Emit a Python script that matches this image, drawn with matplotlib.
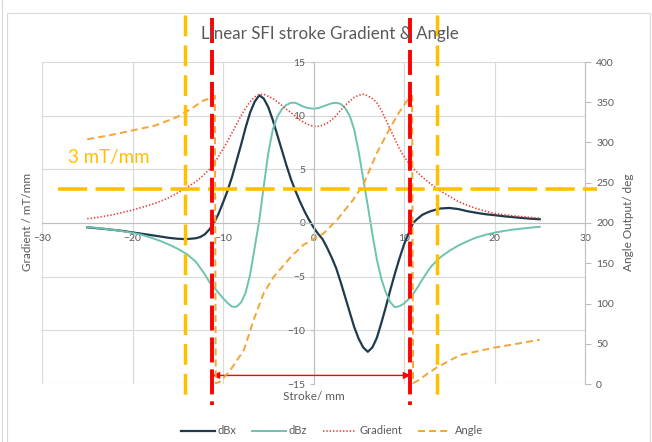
import matplotlib
matplotlib.use('Agg')
import matplotlib.pyplot as plt
import matplotlib.transforms as mtransforms
from matplotlib.lines import Line2D

plt.rcParams['font.family'] = ['Lato', 'DejaVu Sans']
plt.rcParams['lines.scale_dashes'] = False

# ---------------- data ----------------
stroke = [-25, -24, -23, -22, -21, -20, -19, -18, -17, -16, -15, -14, -13,
          -12.5, -12, -11.5, -11, -10.5, -10, -9.5, -9, -8.5, -8, -7.5, -7,
          -6.5, -6, -5.5, -5, -4.5, -4, -3.5, -3, -2.5, -2, -1.5, -1, -0.5,
          0, 0.5, 1, 1.5, 2, 2.5, 3, 3.5, 4, 4.5, 5, 5.5, 6, 6.5, 7, 7.5, 8,
          8.5, 9, 9.5, 10, 10.5, 11, 11.5, 12, 12.5,
          13, 14, 15, 16, 17, 18, 19, 20, 21, 22, 23, 24, 25]

dBx = [-0.40, -0.48, -0.56, -0.65, -0.75, -0.88, -1.00, -1.12, -1.25, -1.38, -1.47, -1.50, -1.42,
       -1.30, -1.05, -0.60, 0.00, 0.85, 1.90, 3.00, 4.30, 5.80, 7.30, 8.90, 10.30,
       11.30, 11.90, 11.60, 10.80, 9.60, 8.20, 6.80, 5.40, 4.10, 3.00, 2.00, 1.10, 0.30,
       -0.40, -1.00, -1.50, -2.30, -3.20, -4.20, -5.50, -6.90, -8.30, -9.70, -10.80, -11.60, -12.00, -11.60, -10.70, -9.30, -7.80,
       -6.20, -4.70, -3.30, -2.00, -1.00, 0.00, 0.40, 0.75, 0.95,
       1.12, 1.35, 1.40, 1.30, 1.10, 0.95, 0.82, 0.73, 0.63, 0.55, 0.47, 0.40, 0.35]

dBz = [-0.38, -0.45, -0.55, -0.65, -0.78, -0.92, -1.10, -1.35, -1.65, -2.00, -2.40, -2.90, -3.60,
       -4.20, -4.80, -5.50, -6.00, -6.50, -7.00, -7.45, -7.80, -7.80, -7.40, -6.50, -4.80,
       -2.30, 0.20, 3.40, 6.50, 8.70, 9.90, 10.60, 11.00, 11.20, 11.20, 11.00, 10.80, 10.70,
       10.65, 10.70, 10.85, 11.00, 11.15, 11.20, 11.10, 10.70, 10.00, 8.70, 6.60, 4.10, 1.60, -1.00, -3.40, -5.20, -6.50,
       -7.40, -7.85, -7.75, -7.50, -7.10, -6.60, -6.00, -5.30, -4.65,
       -4.05, -3.20, -2.60, -2.10, -1.70, -1.35, -1.10, -0.90, -0.75, -0.62, -0.52, -0.43, -0.36]

gradient = [0.40, 0.50, 0.65, 0.80, 1.00, 1.20, 1.45, 1.70, 2.00, 2.35, 2.80, 3.30, 3.85,
            4.20, 4.60, 5.00, 5.50, 6.20, 6.90, 7.60, 8.40, 9.20, 10.00, 10.70, 11.30,
            11.75, 11.95, 12.00, 11.80, 11.60, 11.30, 10.95, 10.60, 10.30, 9.95, 9.60, 9.35, 9.15,
            9.00, 9.00, 9.10, 9.30, 9.60, 10.00, 10.50, 10.95, 11.35, 11.70, 11.90, 12.00, 11.85, 11.60, 11.20, 10.50, 9.60,
            8.70, 7.80, 6.90, 6.20, 5.60, 5.10, 4.70, 4.30, 3.95,
            3.60, 3.00, 2.50, 2.00, 1.65, 1.35, 1.10, 0.90, 0.78, 0.68, 0.60, 0.52, 0.45]

angle_stroke = [-25, -22.5, -20, -17.5, -15, -13.5, -12.2, -11.4, -10.9,
                -10.8, -10.3, -9.2, -7.7, -6.6, -5.5, -4.4, -2.5, -1.1, 0,
                1.1, 2.6, 4.4, 5.6, 7.0, 8.5, 9.5, 10.4, 10.9,
                11.0, 11.5, 12.5, 13.7, 16.2, 19.9, 22.5, 25]
angle = [304, 309, 315, 321, 332, 342, 352, 355, 358,
         1, 3, 17, 42, 80, 113, 133, 158, 173, 180,
         187, 204, 229, 250, 287, 319, 338, 353, 358,
         1, 4, 12, 21, 36, 45, 50, 55]

x_ticks = [-30, -20, -10, 0, 10, 20, 30]
y_ticks = [-15, -10, -5, 0, 5, 10, 15]
angle_ticks = [0, 50, 100, 150, 200, 250, 300, 350, 400]

threshold = 3.18
red_markers = [-11.27, 10.7]
gold_markers = [-14.25, 13.7]
arrow_y = -14.2
arrow_x = [-11.16, 10.72]

# ---------------- style ----------------
GREY_TXT = '#595959'
GRID = '#D9D9D9'
C_DBX = '#1E3A4C'
C_DBZ = '#6EC3AF'
C_GRAD = '#E8403A'
C_ANG = '#F4A535'
GOLD = '#FFC000'
RED = '#FF0000'

W, H = 652, 442
fig = plt.figure(figsize=(W / 100, H / 100), dpi=100)
ax = fig.add_axes([42 / W, 58 / H, 543 / W, 322 / H])
ax2 = ax.twinx()

ax.set_xlim(-30, 30)
ax.set_ylim(-15, 15)
ax2.set_ylim(0, 400)

ax.set_xticks(x_ticks)
ax.set_yticks(y_ticks)
ax2.set_yticks(angle_ticks)
ax.grid(True, color=GRID, lw=0.8)
ax.set_axisbelow(True)

for s in ['top', 'right']:
    ax.spines[s].set_visible(False)
ax.spines['left'].set_position(('data', 0))
ax.spines['bottom'].set_position(('data', 0))
for s in ['left', 'bottom']:
    ax.spines[s].set_color('#BFBFBF')
    ax.spines[s].set_linewidth(0.8)
for s in ['left', 'top', 'bottom']:
    ax2.spines[s].set_visible(False)
ax2.spines['right'].set_color('#BFBFBF')
ax2.spines['right'].set_linewidth(0.8)

ax.tick_params(axis='x', length=0, pad=8, labelsize=7.5, labelcolor=GREY_TXT)
ax.tick_params(axis='y', length=3, width=0.8, color='#BFBFBF', pad=3,
               labelsize=7.5, labelcolor=GREY_TXT)
ax2.tick_params(axis='y', length=4, width=0.8, color='#BFBFBF', pad=4,
                labelsize=7.5, labelcolor=GREY_TXT)

l1, = ax.plot(stroke, dBx, color=C_DBX, lw=1.6, label='dBx')
l2, = ax.plot(stroke, dBz, color=C_DBZ, lw=1.4, label='dBz')
l3, = ax.plot(stroke, gradient, color=C_GRAD, lw=1.2, ls=(0, (1.0, 1.4)), label='Gradient')
l4, = ax2.plot(angle_stroke, angle, color=C_ANG, lw=1.4, ls=(0, (5, 3)), label='Angle')

# annotations
tr_vert = mtransforms.blended_transform_factory(ax.transData, fig.transFigure)
tr_horz = mtransforms.blended_transform_factory(fig.transFigure, ax.transData)
ax2.plot([0.089, 0.9156], [threshold, threshold], transform=tr_horz, color=GOLD,
         lw=2.6, ls=(0, (21, 6)), clip_on=False, zorder=10)
for xv in gold_markers:
    ax2.plot([xv, xv], [1 - 15 / H, 1 - 402 / H], transform=tr_vert, color=GOLD,
             lw=2.5, ls=(0, (15, 6.5)), clip_on=False, zorder=10)
for xv in red_markers:
    ax2.plot([xv, xv], [1 - 18 / H, 1 - 405 / H], transform=tr_vert, color=RED,
             lw=2.8, ls=(0, (18, 5)), clip_on=False, zorder=11)
ax.annotate('', xy=(arrow_x[0], arrow_y), xytext=(arrow_x[1], arrow_y),
            arrowprops=dict(arrowstyle='<|-|>', color=RED, lw=1.0,
                            mutation_scale=10, shrinkA=0, shrinkB=0),
            zorder=12)
fig.text(68 / W, 1 - 157 / H, '3 mT/mm', color=GOLD, fontsize=13.5, va='center', ha='left')

# texts
fig.text(330 / W, 1 - 34 / H, 'Linear SFI stroke Gradient & Angle', color=GREY_TXT,
         fontsize=12.2, ha='center', va='center')
fig.text(28 / W, 1 - 222 / H, 'Gradient / mT/mm', color=GREY_TXT, fontsize=8.5,
         rotation=90, ha='center', va='center')
fig.text(628 / W, 1 - 222 / H, 'Angle Output/ deg', color=GREY_TXT, fontsize=8.5,
         rotation=90, ha='center', va='center')
fig.text(314 / W, 1 - 396 / H, 'Stroke/ mm', color=GREY_TXT, fontsize=8.5,
         ha='center', va='center')

leg = fig.legend(handles=[l1, l2, l3, l4], loc='center', ncol=4, frameon=False,
                 bbox_to_anchor=(332 / W, 1 - 431 / H), fontsize=8,
                 handlelength=3.0, handletextpad=0.3, columnspacing=1.4)
for t in leg.get_texts():
    t.set_color(GREY_TXT)

# chart borders
fig.add_artist(Line2D([2 / W, 2 / W], [0, 1], color=GRID, lw=0.8))
fig.add_artist(Line2D([7 / W, 7 / W, 650 / W, 650 / W], [0, 1 - 13 / H, 1 - 13 / H, 0],
                      color=GRID, lw=0.8))

fig.savefig('out.png', dpi=100)
